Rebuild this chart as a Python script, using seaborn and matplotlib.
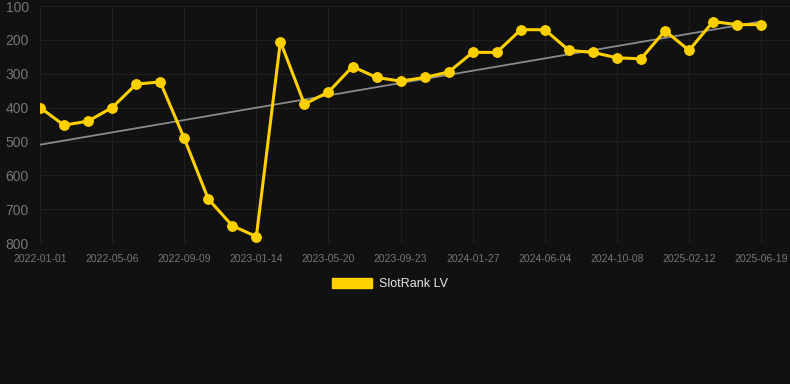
import numpy as np
import pandas as pd
import matplotlib
matplotlib.use("Agg")
import matplotlib.pyplot as plt
from matplotlib.patches import Patch
import seaborn as sns

# ---- data ----
start_date = "2022-01-01"
end_date = "2025-06-19"
n_points = 31
ranks = [400, 452, 440, 400, 331, 324, 491, 670, 749, 781,
         205, 390, 354, 279, 311, 322, 311, 295, 237, 237,
         170, 170, 231, 237, 253, 256, 173, 231, 146, 155, 155]
tick_labels = ["2022-01-01", "2022-05-06", "2022-09-09", "2023-01-14",
               "2023-05-20", "2023-09-23", "2024-01-27", "2024-06-04",
               "2024-10-08", "2025-02-12", "2025-06-19"]
y_ticks = [100, 200, 300, 400, 500, 600, 700, 800]
series_name = "SlotRank LV"

# ---- style ----
BG = "#111111"
GRID = "#202020"
GOLD = "#FFD000"
TICK = "#767676"

sns.set_theme(style="dark")
plt.rcParams["font.family"] = ["Liberation Sans", "DejaVu Sans"]

idx = np.arange(n_points)
df = pd.DataFrame({"idx": idx, "rank": ranks})

fig = plt.figure(figsize=(7.9, 3.84), dpi=100, facecolor=BG)
ax = fig.add_axes([40 / 790, 1 - 243 / 384, 750 / 790, 237 / 384])
ax.set_facecolor(BG)

# trend line
coef = np.polyfit(idx, ranks, 1)
trend = np.polyval(coef, idx)
sns.lineplot(x=idx, y=trend, ax=ax, color="#8a8a8a", linewidth=1.3, zorder=2)

sns.lineplot(data=df, x="idx", y="rank", ax=ax, color=GOLD, linewidth=2.2,
             marker="o", markersize=7, markeredgecolor=GOLD, zorder=3)

ax.set_xlim(0, 31.2)
ax.set_ylim(800, 100)
ax.set_xticks(idx[::3])
ax.set_xticklabels(tick_labels)
ax.set_yticks(y_ticks)
ax.set_yticklabels([str(v) for v in y_ticks])
ax.set_xlabel("")
ax.set_ylabel("")

ax.grid(True, color=GRID, linewidth=0.8)
for s in ax.spines.values():
    s.set_visible(False)
ax.axhline(800, color=GRID, linewidth=1, zorder=1)

ax.tick_params(axis="x", colors=TICK, labelsize=7.5, length=4, color=GRID, pad=4)
ax.tick_params(axis="y", colors=TICK, labelsize=10, length=4, color=GRID, pad=4)
for lab in ax.get_xticklabels() + ax.get_yticklabels():
    lab.set_color(TICK)

handle = Patch(facecolor=GOLD, edgecolor=GOLD, label=series_name)
leg = fig.legend(handles=[handle], loc="center", bbox_to_anchor=(390 / 790, 1 - 284 / 384),
                 frameon=False, fontsize=9, handlelength=3.2, handleheight=0.9,
                 handletextpad=0.5)
for t in leg.get_texts():
    t.set_color("#e6e6e6")

fig.savefig("out.png", dpi=100, facecolor=BG)
